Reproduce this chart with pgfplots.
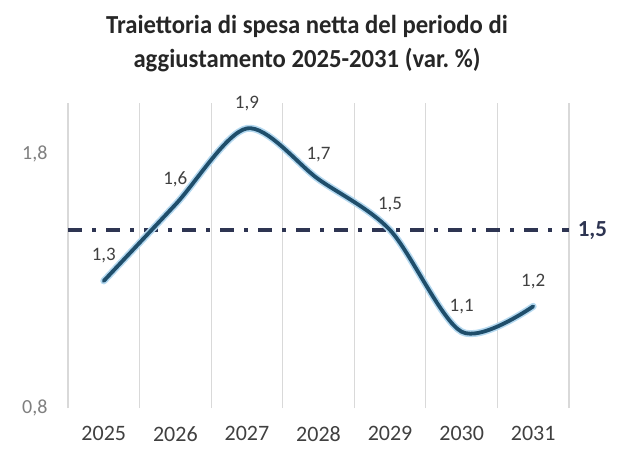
\documentclass[border=0pt]{standalone}
\usepackage{pgfplots}
\pgfplotsset{compat=1.18}
\usepackage{pgfplotstable}
\usepackage{fontspec}
\setmainfont{Carlito}
\newfontfamily\titlefont[FakeStretch=0.95]{Carlito}

\definecolor{linecol}{HTML}{1F4E6B}
\definecolor{glowcol}{HTML}{B5D9F0}
\definecolor{refcol}{HTML}{2E3552}
\definecolor{txtcol}{HTML}{404040}
\definecolor{titlecol}{HTML}{262626}
\definecolor{tickcol}{HTML}{7F7F7F}
\definecolor{gridcol}{HTML}{D9D9D9}

\pgfplotstableread{
x y
0 1.3
1 1.6
2 1.9
3 1.7
4 1.5
5 1.1
6 1.2
}\spesa

\begin{document}
\begin{tikzpicture}
\path[use as bounding box] (-68pt,-40pt) rectangle (549pt,408pt);
\node[anchor=base, text=titlecol, inner sep=0pt] at (239pt,374pt)
  {\titlefont\fontsize{26}{30}\selectfont\bfseries Traiettoria di spesa netta del periodo di};
\node[anchor=base, text=titlecol, inner sep=0pt] at (239pt,341pt)
  {\titlefont\fontsize{26}{30}\selectfont\bfseries aggiustamento 2025-2031 (var.~\%)};
\begin{axis}[
    scale only axis,
    width=501pt, height=305pt,
    clip=false,
    xmin=-0.5, xmax=6.5,
    ymin=0.8, ymax=2.0,
    xtick={0,...,6},
    xticklabels={2025,2026,2027,2028,2029,2030,2031},
    ytick={0.8,1.8},
    minor xtick={-0.5,0.5,...,6.5},
    xminorgrids=true,
    minor grid style={gridcol, line width=1.2pt},
    major tick length=0pt,
    minor tick length=0pt,
    axis line style={draw=none},
    xticklabel style={font=\fontsize{22}{24}\selectfont, text=txtcol, yshift=-15pt},
    yticklabel style={font=\fontsize{20}{22}\selectfont, text=tickcol, xshift=-17pt},
    /pgf/number format/.cd, use comma, fixed, fixed zerofill, precision=1, assume math mode=true,
]
\addplot[refcol, line width=3.5pt, dash pattern=on 14pt off 10pt on 4pt off 10pt]
  coordinates {(-0.5,1.5) (6.5,1.5)}
  node[pos=1, anchor=west, inner sep=0pt, xshift=7pt, text=refcol,
       font=\fontsize{23}{25}\selectfont\bfseries] {1,5};
\addplot[glowcol, line width=7pt, smooth, line cap=round] table[x=x,y=y] {\spesa};
\addplot[linecol, line width=3.8pt, smooth, line cap=round,
    nodes near coords,
    every node near coord/.append style={anchor=center, yshift=25pt, text=txtcol,
        font=\fontsize{19}{21}\selectfont}]
  table[x=x,y=y] {\spesa};
\end{axis}
\end{tikzpicture}
\end{document}
